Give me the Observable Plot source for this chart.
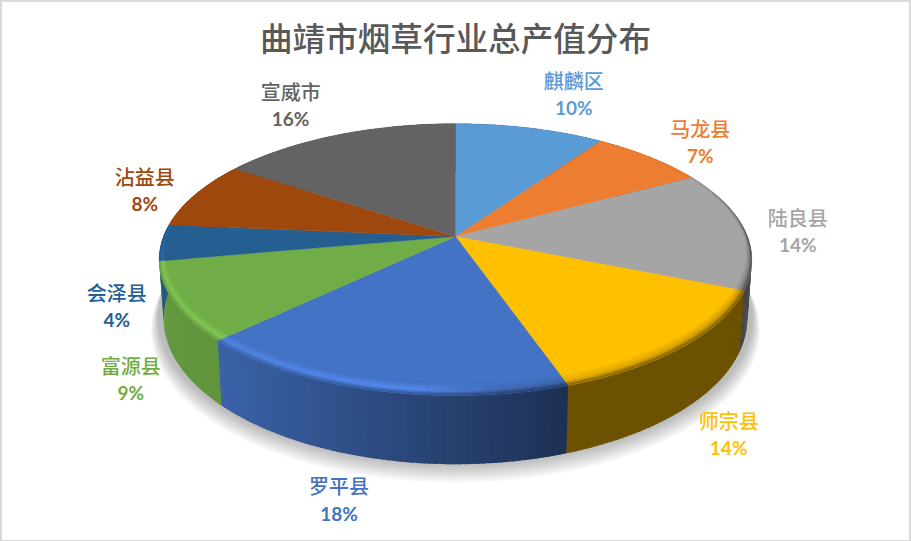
<!DOCTYPE html>
<html lang="zh">
<head>
<meta charset="utf-8">
<script src="https://cdn.jsdelivr.net/npm/d3@7"></script>
<script src="https://cdn.jsdelivr.net/npm/@observablehq/plot@0.6"></script>
<style>
  html, body { margin: 0; padding: 0; background: #fff; }
  #page { position: relative; width: 911px; height: 541px; overflow: hidden; }
  #edge { position: absolute; inset: 0; border: 2px solid #d9d9d9; border-bottom-width: 1px; box-sizing: border-box; pointer-events: none; }
  #title { height: 66px; text-align: center; font: 500 32.6px/74px "Noto Sans CJK SC", sans-serif; color: #595959; }
  #chart svg { display: block; }
</style>
</head>
<body>
<div id="page">
  <div id="title"></div>
  <div id="chart"></div>
  <div id="edge"></div>
</div>
<script>
const chartTitle = "曲靖市烟草行业总产值分布";
const names = ["麒麟区", "马龙县", "陆良县", "师宗县", "罗平县", "富源县", "会泽县", "沾益县", "宣威市"];
const shares = [9.6, 7.4, 14.3, 13.5, 18, 9.4, 4.3, 8.1, 15.5];
const percentLabels = ["10%", "7%", "14%", "14%", "18%", "9%", "4%", "8%", "16%"];
const colors = ["#5b9bd5", "#ed7d31", "#a5a5a5", "#ffc000", "#4472c4", "#70ad47", "#255e91", "#9e480e", "#636363"];
// label placement in the pie's own polar terms: reach (radii) and bearing (degrees clockwise from the back)
const labelReach = [1.41, 1.25, 1.18, 1.41, 1.52, 1.31, 1.17, 1.19, 1.37];
const labelBearing = [20.6, 49.7, 88.2, 148.1, 191.3, 225.8, 245.4, 288.1, 330.3];

// view of the tilted disc
const view = {cx: 455, cy: 236, rx: 292, ry: 132, persp: 0.17, thick: 57, foot: 0.985};
const rad = d => d * Math.PI / 180;
function project(deg, r = 1, drop = 0, squeeze = 1) {
  const X = r * Math.sin(rad(deg)), Y = r * Math.cos(rad(deg));
  const s = 1 / (1 + view.persp * Y);
  return {x: view.cx + view.rx * X * s * squeeze, y: view.cy + (-view.ry * Y + drop) * s};
}
const total = d3.sum(shares);
const slices = [];
shares.reduce((acc, v, i) => {
  slices.push({i, a0: acc / total * 360, a1: (acc + v) / total * 360, color: colors[i]});
  return acc + v;
}, 0);
function steps(a0, a1, by = 1) {
  const n = Math.max(1, Math.ceil((a1 - a0) / by));
  return d3.range(n + 1).map(k => a0 + (a1 - a0) * k / n);
}
const shade = (c, f) => { const q = d3.rgb(c); return d3.rgb(Math.min(255, q.r * f), Math.min(255, q.g * f), Math.min(255, q.b * f)).formatRgb(); };
const sideTone = d3.scaleLinear().domain([-1, -0.7, 0.35, 1]).range([0.88, 0.86, 0.42, 0.42]).clamp(true);
const glowTone = d3.scaleLinear().domain([-0.9, -0.1, 0.15, 1]).range([1.14, 1.22, 0.92, 0.8]).clamp(true);
const lap = 0.5; // each strip runs slightly under the next, so no seam shows

// soft shadow: nested discs that build up towards the pie's foot
const shadowRows = [];
d3.range(8).forEach(n => {
  for (const a of steps(0, 360, 3)) {
    shadowRows.push({id: `shadow-${n}`, ...project(a, 1.004 * (1 + n * 0.0032), view.thick + n * 1.5)});
  }
});

const sideRows = [];
for (const sl of slices) {
  const as = steps(sl.a0, sl.a1);
  as.slice(0, -1).forEach((a, k) => {
    const b = as[k + 1] + lap, id = `side-${sl.i}-${k}`;
    const color = shade(sl.color, sideTone(Math.sin(rad(a))));
    [project(a), project(b), project(b, 1, view.thick, view.foot), project(a, 1, view.thick, view.foot)]
      .forEach(p => sideRows.push({id, color, ...p}));
  });
}

const faceRows = [];
for (const sl of slices) {
  faceRows.push({id: `top-${sl.i}`, color: sl.color, x: view.cx, y: view.cy});
  for (const a of steps(sl.a0, sl.a1)) faceRows.push({id: `top-${sl.i}`, color: sl.color, ...project(a)});
}

const bevelRows = [];
const stops = d3.range(0, 1.0001, 0.125);
for (const sl of slices) {
  const as = steps(sl.a0, sl.a1);
  as.slice(0, -1).forEach((a, k) => {
    const b = as[k + 1] + lap, X = Math.sin(rad(a)), Y = Math.cos(rad(a));
    if (Y > 0.6) return;
    const fade = Math.min(1, (0.6 - Y) / 0.6);
    const width = t => 1 - (0.012 + 0.055 * Math.max(0, -Y)) * (1 - t);
    const glow = shade(sl.color, glowTone(X)), dark = shade(sl.color, sideTone(X));
    const ramp = d3.scaleLinear().domain([0, 0.6, 1]).range([sl.color, glow, dark]).interpolate(d3.interpolateRgb);
    stops.slice(0, -1).forEach((t, j) => {
      const id = `bevel-${sl.i}-${k}-${j}`;
      const color = d3.rgb(d3.interpolateRgb(sl.color, ramp(t))(fade)).formatRgb();
      const inner = width(t) - (j ? 0.002 : 0), outer = width(stops[j + 1]);
      [project(a, inner), project(b, inner), project(b, outer), project(a, outer)]
        .forEach(p => bevelRows.push({id, color, ...p}));
    });
  });
}

const labels = slices.map(sl => ({
  name: names[sl.i], pct: percentLabels[sl.i], color: sl.color,
  ...project(labelBearing[sl.i], labelReach[sl.i])
}));

document.getElementById("title").textContent = chartTitle;
const chart = Plot.plot({
  width: 911, height: 475,
  marginTop: 0, marginRight: 0, marginBottom: 0, marginLeft: 0,
  x: {domain: [0, 911], range: [0, 911], axis: null},
  y: {domain: [66, 541], range: [0, 475], axis: null},
  color: {type: "identity"},
  style: {background: "transparent"},
  marks: [
    Plot.line(shadowRows, {x: "x", y: "y", z: "id", fill: "#000", fillOpacity: 0.035, stroke: "none"}),
    Plot.line(sideRows, {x: "x", y: "y", z: "id", fill: "color", stroke: "none"}),
    Plot.line(faceRows, {x: "x", y: "y", z: "id", fill: "color", stroke: "color", strokeWidth: 0.4}),
    Plot.line(bevelRows, {x: "x", y: "y", z: "id", fill: "color", stroke: "none"}),
    Plot.text(labels, {x: "x", y: "y", text: "name", fill: "color", dy: -12, fontSize: 20, fontWeight: 500, fontFamily: "'Noto Sans CJK SC', sans-serif"}),
    Plot.text(labels, {x: "x", y: "y", text: "pct", fill: "color", dy: 14.5, fontSize: 19, fontWeight: 700, fontFamily: "Lato, sans-serif"})
  ]
});
document.getElementById("chart").append(chart);
</script>
</body>
</html>
